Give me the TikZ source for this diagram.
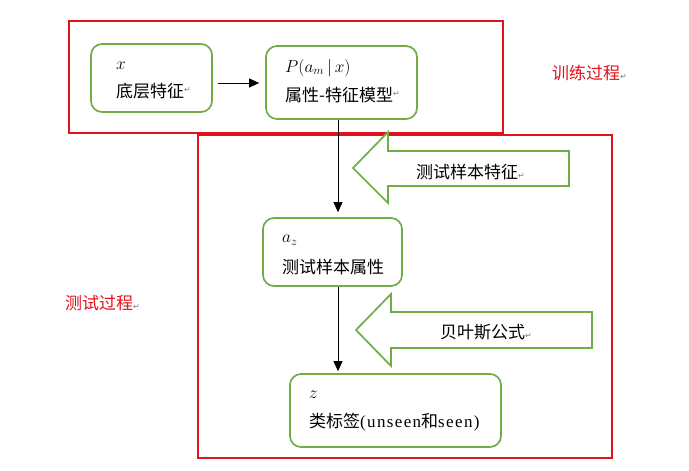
\documentclass[tikz,border=0pt]{standalone}
\usepackage{fontspec}
\setmainfont{Liberation Serif}
\newfontfamily\cjk{Noto Sans CJK SC}
\newfontfamily\symfont{DejaVu Sans}
\newfontfamily\widelatin[LetterSpace=8]{Liberation Serif}
\usetikzlibrary{arrows.meta,calc}
\definecolor{redline}{RGB}{226,18,28}
\definecolor{greenline}{RGB}{112,173,71}
\definecolor{retgray}{RGB}{125,125,125}
\newcommand{\retmark}{{\symfont\fontsize{8}{8}\selectfont\color{retgray}↵}}
\newcommand{\retup}{\raisebox{5pt}{\retmark}}
\tikzset{
  procframe/.style={draw=redline,line width=1.6pt},
  stagebox/.style={draw=greenline,line width=1.7pt,rounded corners=11pt,fill=white,inner sep=0pt},
  blockarrow/.style={draw=greenline,line width=1.7pt,fill=white,line join=miter},
  label/.style={inner sep=0pt,anchor=west,font=\cjk\fontsize{17}{20}\selectfont},
  redlabel/.style={label,text=redline},
  flow/.style={line width=0.8pt,-{Triangle[length=10pt,width=9pt]}}
}
\begin{document}
\begin{tikzpicture}[x=1pt,y=-1pt]
\useasboundingbox[fill=white] (0,0) rectangle (689,471);
% process frames
\draw[procframe] (69,21) rectangle (503,133);
\draw[procframe] (198,135) rectangle (612,458);
% stage boxes
\node[stagebox,minimum width=121pt,minimum height=68pt] (b1) at (151.5,78) {};
\node[stagebox,minimum width=151pt,minimum height=73pt] (b2) at (341.5,82.5) {};
\node[stagebox,minimum width=139pt,minimum height=68pt] (b3) at (332.5,252) {};
\node[stagebox,minimum width=211pt,minimum height=73pt] (b4) at (395.5,410.5) {};
% block arrows
\draw[blockarrow] (353,168) -- (388,132) -- (388,151) -- (569,151) -- (569,186) -- (388,186) -- (388,203) -- cycle;
\draw[blockarrow] (356,330) -- (391,294) -- (391,312) -- (592,312) -- (592,348) -- (391,348) -- (391,366) -- cycle;
% texts
\node[label] (t1a) at (116,66) {\fontsize{18}{20}\selectfont$x$};
\node[label] (t1b) at (116,91) {底层特征\retup};
\node[label] (t2a) at (285,68) {\fontsize{17}{20}\selectfont$P(a_m\,|\,x)$};
\node[label] (t2b) at (285,95) {属性-特征模型\retup};
\node[label] (t3a) at (282,240) {\fontsize{18}{20}\selectfont$a_z$};
\node[label] (t3b) at (282,267) {测试样本属性};
\node[label] (t4a) at (309,395) {\fontsize{18}{20}\selectfont$z$};
\node[label] (t4b) at (309,422) {类标签{\widelatin(unseen}和{\widelatin seen)}};
\node[label] (ta1) at (416,172) {测试样本特征\retmark};
\node[label] (ta2) at (440,332) {贝叶斯公式\retmark};
\node[redlabel] (train) at (552,73) {训练过程\retmark};
\node[redlabel] (test) at (65,303) {测试过程\retmark};
% connectors
\draw[flow,shorten <=5pt,shorten >=6pt] (b1.east |- 0,83) -- (b2.west |- 0,83);
\draw[flow,shorten >=5pt] ([xshift=-3.5pt]b2.south) -- ([xshift=5.5pt]b3.north);
\draw[flow,shorten >=2pt] ([xshift=5.5pt]b3.south) -- ([xshift=-57.5pt]b4.north);
\end{tikzpicture}
\end{document}
